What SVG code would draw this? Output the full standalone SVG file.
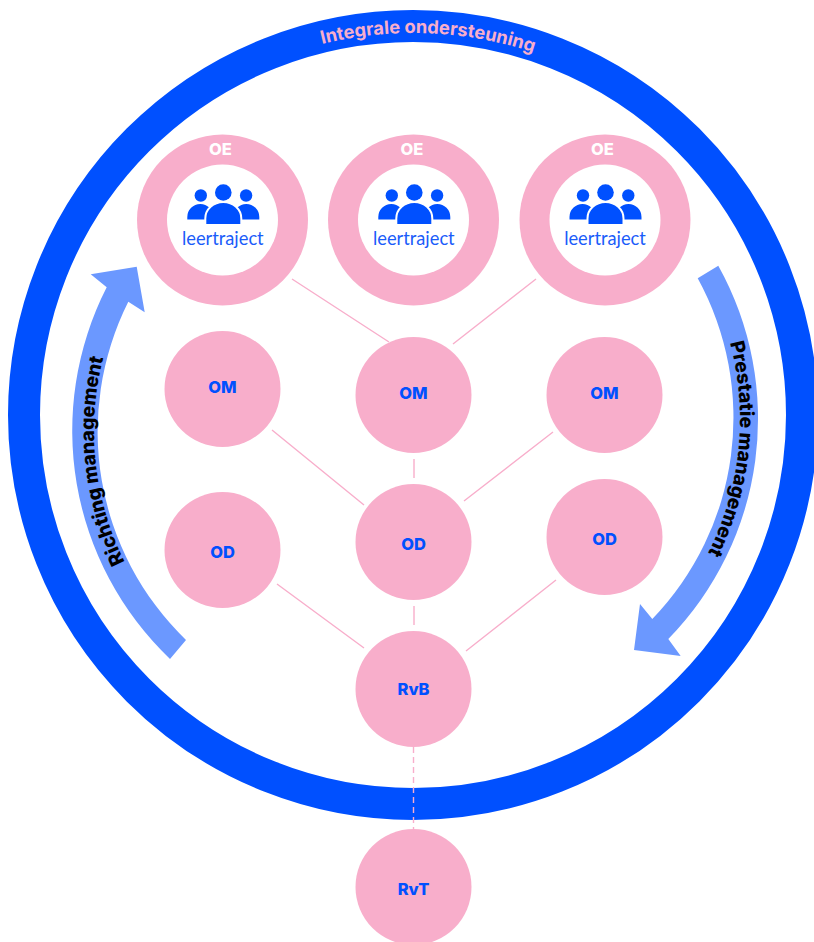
<svg xmlns="http://www.w3.org/2000/svg" xmlns:xlink="http://www.w3.org/1999/xlink" width="814" height="942" viewBox="0 0 814 942">
<style>
text{font-family:"Inter","Liberation Sans",sans-serif;text-anchor:middle}
.n{fill:#f8aecb}
.l{fill:#0050ff;font-weight:800;font-size:16.500px}
.oe{fill:#fff;font-weight:800;font-size:16.500px}
.lt{fill:#1a5cfa;font-size:18.300px;font-family:"Lato","Liberation Sans",sans-serif}
.c{stroke:#f8aecb;stroke-width:1.4;fill:none}
.arrow{fill:#6b98ff}
.at{fill:#000;font-weight:800;font-size:19.300px}
</style>
<defs>
<path id="topArc" d="M31 415A382 382 0 0 1 795 415"/>
<path id="rightArc" d="M670.500 228.100A297 297 0 0 1 625.900 653"/>
<path id="leftArc" d="M183.800 642.500A294 294 0 0 1 144.300 266.600"/>
<g id="people">
<circle cx="-22.500" cy="-24" r="6.200" fill="#0050ff"/>
<circle cx="22.800" cy="-24" r="6.200" fill="#0050ff"/>
<path d="M-36 0V-2.500A13 13 0 0 1-10-2.500V0ZM10 0V-2.500A13 13 0 0 1 36-2.500V0Z" fill="#0050ff"/>
<circle cx="0" cy="-27" r="8.300" fill="#0050ff"/>
<path d="M-18 5.500V-1A18 16.500 0 0 1 18-1V5.500Z" fill="#0050ff" stroke="#fff" stroke-width="2"/>
</g>
</defs>
<circle id="ring" cx="413" cy="415" r="389" fill="none" stroke="#0050ff" stroke-width="32"/>
<text font-size="18.300" font-weight="700" style="fill:#f8aecb"><textPath href="#topArc" startOffset="615">Integrale ondersteuning</textPath></text>
<g id="connectors">
<path class="c" d="M292 279L389 342M536 279L453 344M272 430L364 505M553 432L464 501M414 459V478M277 584L364 648M556 580L466 651M414 606V625"/>
<path class="c" stroke-dasharray="6 4" d="M413.500 747V829"/>
</g>
<g id="richting"><path class="arrow" d="M186 640A290 290 0 0 1 128.300 301.700L144.700 312.300L136.700 266.700L90.700 274.300L106.700 287.300A315.500 315.500 0 0 0 170 659Z"/>
<text class="at"><textPath href="#leftArc" startOffset="50%">Richting management</textPath></text></g>
<g id="prestatie"><path class="arrow" d="M718.300 265.700A315 315 0 0 1 668.300 639L680.700 656L634 650L640 604L652.300 619A290 290 0 0 0 697.700 278.300Z"/>
<text class="at"><textPath href="#rightArc" startOffset="50%">Prestatie management</textPath></text></g>
<g id="oe1"><circle class="n" cx="222.500" cy="220" r="85.500"/><circle cx="222.500" cy="220" r="55.500" fill="#fff"/><use href="#people" x="223.300" y="219.500"/><text class="oe" x="220.300" y="155">OE</text><text class="lt" x="222.800" y="245">leertraject</text></g>
<g id="oe2"><circle class="n" cx="413.500" cy="220" r="85.500"/><circle cx="413.500" cy="220" r="55.500" fill="#fff"/><use href="#people" x="414.300" y="219.500"/><text class="oe" x="411.800" y="155">OE</text><text class="lt" x="413.800" y="245">leertraject</text></g>
<g id="oe3"><circle class="n" cx="605" cy="220" r="85.500"/><circle cx="605" cy="220" r="55.500" fill="#fff"/><use href="#people" x="605.500" y="219.500"/><text class="oe" x="602.500" y="155">OE</text><text class="lt" x="605" y="245">leertraject</text></g>
<g id="om1"><circle class="n" cx="222.500" cy="389" r="58"/><text class="l" x="222.500" y="392.500">OM</text></g>
<g id="om2"><circle class="n" cx="413.500" cy="395" r="58"/><text class="l" x="413.500" y="398.500">OM</text></g>
<g id="om3"><circle class="n" cx="604.500" cy="395" r="58"/><text class="l" x="604.500" y="398.500">OM</text></g>
<g id="od1"><circle class="n" cx="222.500" cy="550" r="58"/><text class="l" x="222.500" y="557.500">OD</text></g>
<g id="od2"><circle class="n" cx="413.500" cy="542" r="58"/><text class="l" x="413.500" y="549.500">OD</text></g>
<g id="od3"><circle class="n" cx="604.500" cy="537" r="58"/><text class="l" x="604.500" y="544.500">OD</text></g>
<g id="rvb"><circle class="n" cx="413.500" cy="689" r="58"/><text class="l" x="413.500" y="695">RvB</text></g>
<g id="rvt"><circle class="n" cx="413.500" cy="887" r="58"/><text class="l" x="413.500" y="895">RvT</text></g>
</svg>
